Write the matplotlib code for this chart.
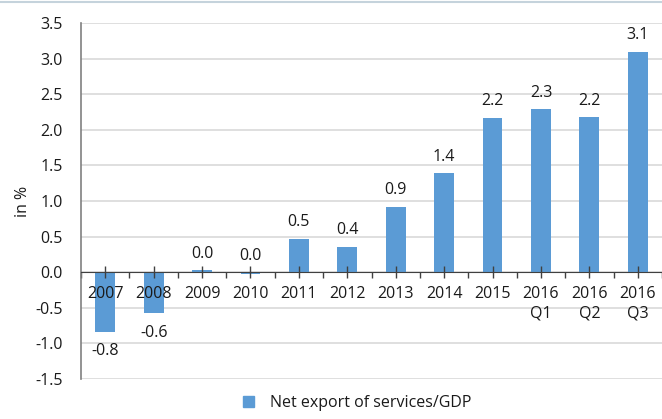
import numpy as np
import matplotlib.pyplot as plt
from matplotlib.lines import Line2D
from matplotlib.patches import Patch

plt.rcParams['font.family'] = ['Open Sans', 'DejaVu Sans']

categories = ["2007", "2008", "2009", "2010", "2011", "2012", "2013", "2014",
              "2015", "2016\nQ1", "2016\nQ2", "2016\nQ3"]
values = [-0.84, -0.58, 0.03, -0.03, 0.47, 0.36, 0.92, 1.39, 2.17, 2.29, 2.18, 3.10]
series_name = "Net export of services/GDP"

bar_color = "#5B9BD5"
text_color = "#1a1a1a"
fs = 11.5

fig = plt.figure(figsize=(6.62, 4.19), dpi=100)
ax = fig.add_axes([0.1224, 0.0955, 0.8776, 0.8495])

yticks = np.arange(-1.5, 3.51, 0.5)
# grid drawn by hand so that it stays under the bars while tick labels sit on top
for t in yticks:
    ax.axhline(t, color="#d9d9d9", linewidth=1.2, zorder=0)

x = np.arange(len(categories))
ax.bar(x, values, width=0.41, color=bar_color, zorder=1)

# data labels: above positive / tiny bars, below negative ones
for xi, v in zip(x, values):
    lab = f"{v:.1f}".replace("-0.0", "0.0")
    if v < -0.1:
        ax.annotate(lab, (xi, v), xytext=(0, -8), textcoords="offset points",
                    ha="center", va="top", fontsize=fs, color=text_color)
    else:
        ax.annotate(lab, (xi, max(v, 0)), xytext=(0, 6), textcoords="offset points",
                    ha="center", va="bottom", fontsize=fs, color=text_color)

ax.set_xlim(-0.5, len(categories) - 0.5)
ax.set_ylim(-1.5, 3.5)
ax.set_yticks(yticks)
ax.set_yticklabels([f"{t:.1f}" for t in yticks])

# x axis sits on the zero line
ax.spines['bottom'].set_position(('data', 0))
ax.spines['bottom'].set_color("#404040")
ax.spines['left'].set_color("#808080")
ax.spines['left'].set_linewidth(1.2)
ax.spines['top'].set_visible(False)
ax.spines['right'].set_visible(False)
ax.set_xticks(x)
ax.set_xticklabels(categories, fontsize=fs, color=text_color, linespacing=1.25)
ax.set_xticks(np.arange(-0.5, len(categories), 1.0), minor=True)
ax.tick_params(axis='x', which='major', direction='inout', length=8, width=1,
               color="#404040", pad=6)
ax.tick_params(axis='x', which='minor', direction='out', length=4, width=1,
               color="#404040")
ax.tick_params(axis='y', length=0, pad=13, labelsize=fs, labelcolor=text_color)

ax.set_ylabel("in %", fontsize=fs, color=text_color, labelpad=3)

fig.legend(handles=[Patch(color=bar_color, label=series_name)],
           loc="lower center", bbox_to_anchor=(0.54, -0.015), frameon=False,
           fontsize=fs, handlelength=0.7, handleheight=0.7, handletextpad=1.0,
           labelcolor=text_color)

# thin frame line at the very top
fig.add_artist(Line2D([0, 1], [0.996, 0.996], color="#c5d3dc", linewidth=1.5))

plt.savefig("out.png", dpi=100)
plt.close()
